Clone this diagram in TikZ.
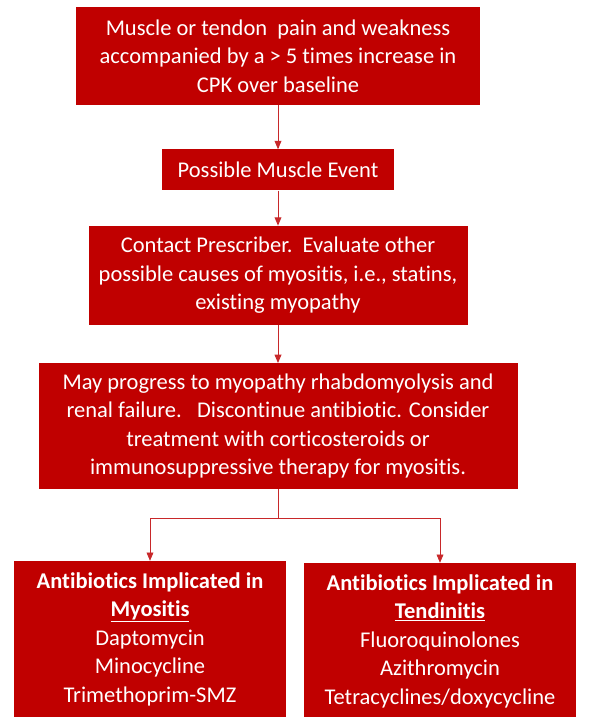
\documentclass[tikz,border=0pt]{standalone}
\usepackage{fontspec}
\setmainfont{Carlito}[Ligatures=NoCommon]
\usepackage{tikz}
\usetikzlibrary{positioning}
\usetikzlibrary{arrows}
\definecolor{boxred}{HTML}{C00000}
\definecolor{linered}{HTML}{C8282A}
\tikzset{
    x=1pt, y=-1pt, % pixel-like units, y going down
    every box/.style={ % Sets the properties for each box
        fill=boxred,
        text=white,
        align=center,
        inner sep=2pt,
        font=\fontsize{22.5}{28.5}\selectfont
    },
    link/.style={ % Sets the properties for each connector
        draw=linered,
        line width=0.9pt,
        >=triangle 45
    }
}

\begin{document}
\begin{tikzpicture}
            \useasboundingbox (0,0) rectangle (597,717);
            \node[every box, minimum width=404pt, minimum height=98pt] (pain) at (278,56)
                {Muscle or tendon\ \ pain and weakness\\accompanied by a > 5 times increase in\\CPK over baseline};
            \node[every box, minimum width=232pt, minimum height=41pt, below=44pt of pain] (event)
                {Possible Muscle Event};
            \node[every box, minimum width=379pt, minimum height=99pt, below=35pt of event] (contact)
                {Contact Prescriber.\ \ Evaluate other\\possible causes of myositis, i.e., statins,\\existing myopathy};
            \node[every box, minimum width=479pt, minimum height=126pt, below=38pt of contact] (progress)
                {May progress to myopathy rhabdomyolysis and\\renal failure.\ \ \ Discontinue antibiotic. Consider\\treatment with corticosteroids or\\immunosuppressive therapy for myositis.};
            \node[every box, minimum width=272pt, minimum height=156pt] (myositis) at (150,639)
                {\textbf{Antibiotics Implicated in}\\\textbf{\underline{Myositis}}\\Daptomycin\\Minocycline\\Trimethoprim-SMZ};
            \node[every box, minimum width=272pt, minimum height=156pt] (tendinitis) at (440,641)
                {\textbf{Antibiotics Implicated in}\\\textbf{\underline{Tendinitis}}\\Fluoroquinolones\\Azithromycin\\Tetracyclines/doxycycline};
            \coordinate (split) at (278,518);

            \draw[link, ->] (pain) -- (event);
            \draw[link, ->] (event) -- (contact);
            \draw[link, ->] (contact) -- (progress);
            \draw[link] (progress) -- (split);
            \draw[link, ->] (split) -| (myositis);
            \draw[link, ->] (split) -| (tendinitis);
        \end{tikzpicture}
\end{document}
